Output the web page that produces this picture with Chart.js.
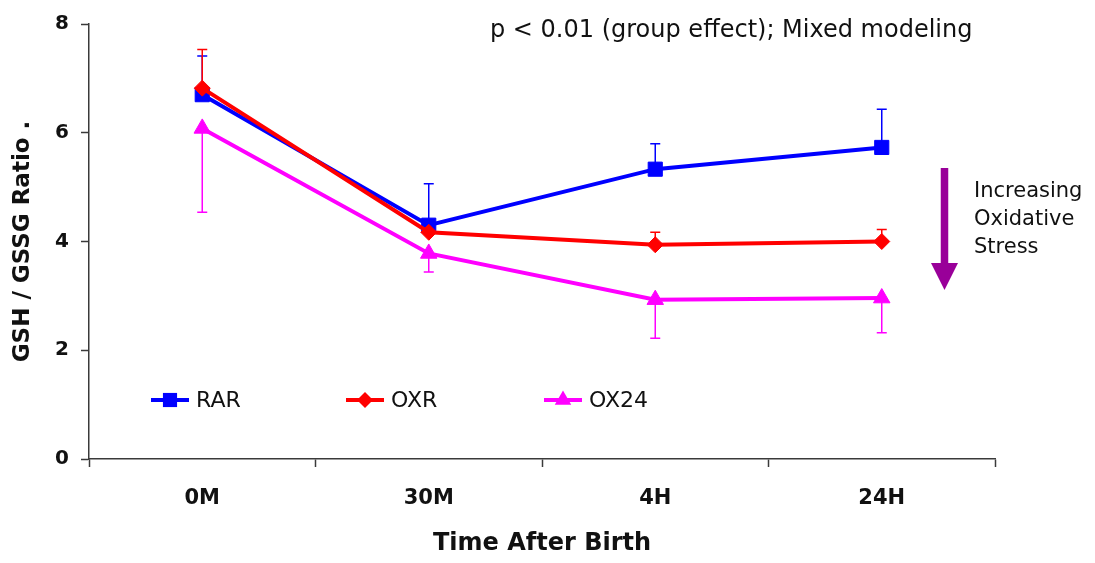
<!DOCTYPE html>
<html>
<head>
<meta charset="utf-8">
<script src="https://cdn.jsdelivr.net/npm/chart.js@4"></script>
<style>
  html, body { margin: 0; padding: 0; background: #fff; }
</style>
</head>
<body>
<canvas id="chart" width="1095" height="563"></canvas>
<script>
// ---- values ----
const timePoints = ['0M', '30M', '4H', '24H'];
const rarValues  = [6.70, 4.30, 5.33, 5.73];
const rarErr     = [0.71, 0.76, 0.47, 0.70];
const oxrValues  = [6.82, 4.17, 3.94, 4.00];
const oxrErr     = [0.71, 0.20, 0.23, 0.22];
const ox24Values = [6.08, 3.78, 2.93, 2.96];
const ox24Err    = [1.54, 0.34, 0.71, 0.64];
const yTicks     = [0, 2, 4, 6, 8];

const FONT = "'DejaVu Sans', 'Liberation Sans', sans-serif";
const AXIS = '#3a3a3a';

function drawMarker(ctx, style, r, x, y) {
  ctx.beginPath();
  if (style === 'rect') {
    const s = r * Math.SQRT1_2;
    ctx.rect(x - s, y - s, 2 * s, 2 * s);
  } else if (style === 'rectRot') {
    ctx.moveTo(x, y - r); ctx.lineTo(x + r, y); ctx.lineTo(x, y + r); ctx.lineTo(x - r, y);
    ctx.closePath();
  } else {
    ctx.moveTo(x, y - r);
    ctx.lineTo(x + r * 0.866, y + r / 2);
    ctx.lineTo(x - r * 0.866, y + r / 2);
    ctx.closePath();
  }
  ctx.fill();
}

// one-sided error bars (up for RAR/OXR, down for OX24)
const errorBars = {
  id: 'errorBars',
  beforeDatasetsDraw(chart) {
    const { ctx, scales: { y } } = chart;
    const metas = chart.getSortedVisibleDatasetMetas().slice().reverse();
    ctx.save();
    ctx.lineWidth = 1.5;
    metas.forEach(meta => {
      const ds = chart.data.datasets[meta.index];
      ctx.strokeStyle = ds.borderColor;
      meta.data.forEach((pt, i) => {
        const v = ds.data[i];
        const y1 = y.getPixelForValue(v + ds.errDir * ds.errors[i]);
        ctx.beginPath();
        ctx.moveTo(pt.x, pt.y); ctx.lineTo(pt.x, y1);
        ctx.moveTo(pt.x - 5, y1); ctx.lineTo(pt.x + 5, y1);
        ctx.stroke();
      });
    });
    ctx.restore();
  }
};

// in-plot legend, p-value note and the oxidative stress arrow
const extras = {
  id: 'extras',
  afterDraw(chart, args, opts) {
    const { ctx } = chart;
    ctx.save();
    chart.data.datasets.forEach((ds, i) => {
      const cx = opts.legendX[i], cy = opts.legendY;
      ctx.strokeStyle = ds.borderColor;
      ctx.fillStyle = ds.borderColor;
      ctx.lineWidth = 4;
      ctx.beginPath(); ctx.moveTo(cx - 19, cy); ctx.lineTo(cx + 19, cy); ctx.stroke();
      drawMarker(ctx, ds.pointStyle, ds.pointRadius, cx, cy);
      ctx.fillStyle = '#111';
      ctx.font = '22px ' + FONT;
      ctx.textBaseline = 'middle';
      ctx.fillText(ds.label, cx + 26, cy + 1);
    });

    ctx.fillStyle = '#111';
    ctx.textBaseline = 'alphabetic';
    ctx.font = '24px ' + FONT;
    ctx.fillText('p < 0.01 (group effect); Mixed modeling', 490, 37);
    ctx.font = '21px ' + FONT;
    ['Increasing', 'Oxidative', 'Stress'].forEach((t, k) => ctx.fillText(t, 974, 197 + k * 28));

    const ax = 944.5;
    ctx.fillStyle = '#990099';
    ctx.fillRect(ax - 3.75, 168, 7.5, 97);
    ctx.beginPath();
    ctx.moveTo(ax - 13.5, 263); ctx.lineTo(ax + 13.5, 263); ctx.lineTo(ax, 290);
    ctx.closePath(); ctx.fill();
    ctx.restore();
  }
};

function series(label, values, errors, errDir, color, style, radius, order) {
  return {
    label, data: values, errors, errDir, order,
    borderColor: color, backgroundColor: color,
    borderWidth: 4, tension: 0,
    pointStyle: style, pointRadius: radius,
    pointBackgroundColor: color, pointBorderColor: color, pointBorderWidth: 1,
    pointHoverRadius: radius
  };
}

new Chart(document.getElementById('chart'), {
  type: 'line',
  data: {
    labels: timePoints,
    datasets: [
      series('RAR',  rarValues,  rarErr,   1, '#0000FF', 'rect',     10,  1),
      series('OXR',  oxrValues,  oxrErr,   1, '#FF0000', 'rectRot',  8,   0),
      series('OX24', ox24Values, ox24Err, -1, '#FF00FF', 'triangle', 9.5, 2)
    ]
  },
  options: {
    responsive: false,
    animation: false,
    devicePixelRatio: 1,
    layout: { padding: { left: 0, top: 21, right: 100, bottom: 0 } },
    plugins: {
      legend: { display: false },
      tooltip: { enabled: false },
      extras: { legendX: [170, 365, 563], legendY: 400 }
    },
    scales: {
      x: {
        offset: true,
        grid: { offset: true, drawOnChartArea: false, drawTicks: true, tickLength: 8, tickColor: AXIS, tickWidth: 1.5 },
        border: { display: true, color: AXIS, width: 1.5 },
        ticks: { color: '#111', padding: 19, font: { family: FONT, size: 21, weight: 'bold' } },
        title: { display: true, text: 'Time After Birth', color: '#111', padding: { top: 0, bottom: 5 },
                 font: { family: FONT, size: 24, weight: 'bold' } },
        afterFit(scale) { scale.height = 104; }
      },
      y: {
        min: 0, max: 8,
        afterBuildTicks(scale) { scale.ticks = yTicks.map(v => ({ value: v })); },
        grid: { drawOnChartArea: false, drawTicks: true, tickLength: 8, tickColor: AXIS, tickWidth: 1.5 },
        border: { display: true, color: AXIS, width: 1.5 },
        ticks: { color: '#111', padding: 12, font: { family: FONT, size: 20, weight: 'bold' } },
        title: { display: true, text: 'GSH / GSSG Ratio .', color: '#111', padding: { top: 9, bottom: 0 },
                 font: { family: FONT, size: 23, weight: 'bold' } },
        afterFit(scale) { scale.width = 89; }
      }
    }
  },
  plugins: [errorBars, extras]
});
</script>
</body>
</html>
